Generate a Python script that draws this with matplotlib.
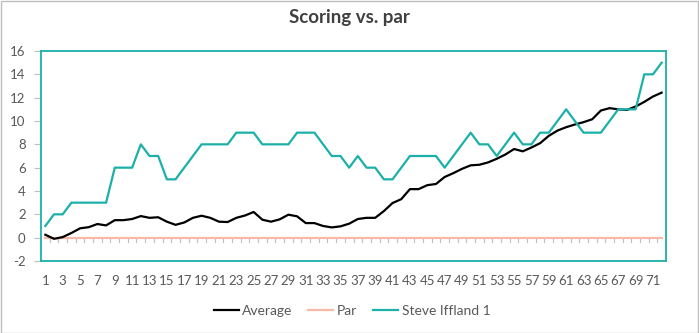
import matplotlib
matplotlib.use("Agg")
from matplotlib import pyplot as plt
from matplotlib.patches import Rectangle

# rounds 1..72
rounds = list(range(1, 73))

average = [0.25, -0.1, 0.05, 0.4, 0.8, 0.9, 1.17, 1.05, 1.5, 1.5,
           1.6, 1.85, 1.7, 1.75, 1.37, 1.1, 1.3, 1.7, 1.88, 1.7,
           1.37, 1.34, 1.7, 1.9, 2.2, 1.54, 1.37, 1.57, 1.97, 1.83,
           1.25, 1.25, 1.0, 0.88, 0.97, 1.2, 1.6, 1.7, 1.7, 2.28,
           2.97, 3.3, 4.16, 4.16, 4.5, 4.6, 5.2, 5.53, 5.9, 6.2,
           6.25, 6.45, 6.76, 7.13, 7.6, 7.4, 7.73, 8.1, 8.73, 9.18,
           9.47, 9.7, 9.9, 10.15, 10.9, 11.1, 11.0, 10.95, 11.24, 11.64,
           12.1, 12.43]

par = [0] * 72

steve = [1, 2, 2, 3, 3, 3, 3, 3, 6, 6,
         6, 8, 7, 7, 5, 5, 6, 7, 8, 8,
         8, 8, 9, 9, 9, 8, 8, 8, 8, 9,
         9, 9, 8, 7, 7, 6, 7, 6, 6, 5,
         5, 6, 7, 7, 7, 7, 6, 7, 8, 9,
         8, 8, 7, 8, 9, 8, 8, 9, 9, 10,
         11, 10, 9, 9, 9, 10, 11, 11, 11, 14,
         14, 15]

y_ticks = list(range(-2, 17, 2))
x_labels = [str(r) for r in rounds[::2]]

TEAL = '#1BB0AA'
SALMON = '#F7B9A6'
GREY = '#595959'
LABEL_FONT = ['Lato', 'DejaVu Sans']


def main():
    plt.rcParams['font.family'] = LABEL_FONT
    fig = plt.figure(figsize=(6.99, 3.33), dpi=100)
    fig.patches.append(Rectangle((0.5 / 699, 0.5 / 333), 1 - 1.5 / 699, 1 - 1.5 / 333,
                                 transform=fig.transFigure, fill=False,
                                 edgecolor='#BFBFBF', lw=1))
    ax = fig.add_axes([41 / 699, 72 / 333, 625 / 699, 210 / 333])

    ax.plot(rounds, par, color=SALMON, lw=1.6, label='Par', zorder=2)
    ax.plot(rounds, average, color='black', lw=1.6, label='Average', zorder=3)
    ax.plot(rounds, steve, color=TEAL, lw=1.6, label='Steve Iffland 1', zorder=4)

    ax.set_xlim(0.5, 72.5)
    ax.set_ylim(-2, 16)
    ax.set_yticks(y_ticks)
    ax.set_yticklabels([str(v) for v in y_ticks], fontsize=9.5, color=GREY)
    ax.tick_params(axis='y', length=5, color='#BFBFBF', pad=6)

    # category tick marks at the boundaries, hanging below the zero line
    for b in range(1, 73):
        ax.plot([b + 0.5, b + 0.5], [0, -0.35], color='#BFBFBF', lw=0.8, zorder=1)
    ax.set_xticks(rounds[::2])
    ax.set_xticklabels(x_labels, fontsize=9.5, color=GREY)
    ax.tick_params(axis='x', length=0, pad=10)

    for s in ax.spines.values():
        s.set_color(TEAL)
        s.set_linewidth(1.3)

    fig.text(0.5, 1 - 18 / 333, 'Scoring vs. par', ha='center', va='center',
             fontsize=13.5, fontweight='bold', color='#404040')

    handles, labels = ax.get_legend_handles_labels()
    order = [1, 0, 2]
    fig.legend([handles[i] for i in order], [labels[i] for i in order],
               loc='center', bbox_to_anchor=(352 / 699, 1 - 311 / 333), ncol=3,
               frameon=False, handlelength=1.8, handletextpad=0.25,
               columnspacing=1.15, labelcolor=GREY,
               prop={'family': LABEL_FONT, 'size': 10})

    fig.savefig('out.png', dpi=100)


if __name__ == '__main__':
    main()
